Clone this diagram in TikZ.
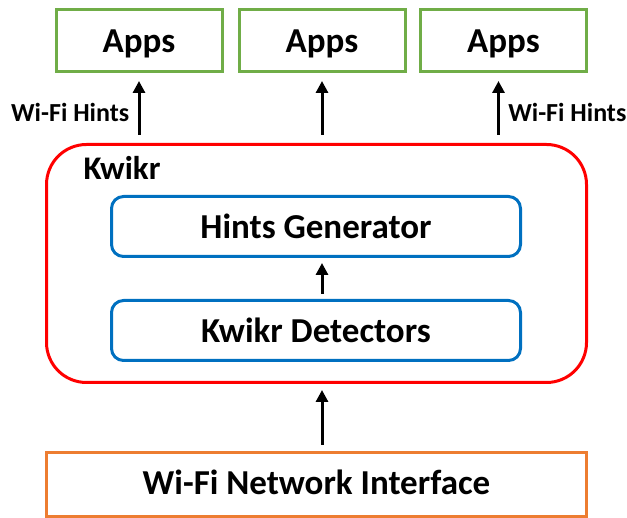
\documentclass[tikz,border=0pt]{standalone}
\usepackage{fontspec}
\setmainfont{Carlito}
\RequirePackage{xcolor}
\usetikzlibrary{shapes,arrows.meta}
\definecolor{appgreen}{RGB}{112,173,71}
\definecolor{kwikrred}{RGB}{255,0,0}
\definecolor{modblue}{RGB}{0,112,192}
\definecolor{nicorange}{RGB}{237,125,49}
\tikzstyle{apps} = [rectangle, minimum width=166pt, minimum height=62pt, text height=27pt, text depth=2pt, text centered, draw=appgreen, line width=3pt, font=\bfseries\fontsize{35}{40}\selectfont]
\tikzstyle{module} = [rectangle, rounded corners=12pt, minimum width=409pt, minimum height=60pt, text centered, draw=modblue, line width=3pt, font=\bfseries\fontsize{35}{40}\selectfont]
\tikzstyle{system} = [rectangle, rounded corners=40pt, minimum width=540pt, minimum height=238pt, draw=kwikrred, line width=3pt]
\tikzstyle{iface} = [rectangle, minimum width=540pt, minimum height=64pt, text height=26pt, text depth=5pt, text centered, draw=nicorange, line width=3pt, font=\bfseries\fontsize{35}{40}\selectfont]
\tikzstyle{arrow} = [line width=3pt, -{Triangle[length=12pt,width=12pt]}]
\tikzstyle{hint} = [font=\bfseries\fontsize{26}{30}\selectfont]

\begin{document}
\begin{tikzpicture}[x=1pt,y=-1pt]
\useasboundingbox (0,0) rectangle (627,518);
\node (app1) [apps] at (139,40.5) {Apps};
\node (app2) [apps] at (322,40.5) {Apps};
\node (app3) [apps] at (503.5,40.5) {Apps};
\node (kwikr) [system] at (316.5,263.5) {};
\node (kwikrlabel) [anchor=west, font=\bfseries\fontsize{33}{38}\selectfont] at (80,168) {Kwikr};
\node (gen) [module] at (316,226.5) {Hints Generator};
\node (det) [module] at (316,330.5) {Kwikr Detectors};
\node (nic) [iface] at (316.5,484.5) {Wi-Fi Network Interface};

\draw [arrow, shorten <=8pt, shorten >=8pt] (kwikr.north -| app1.south) -- node[hint, left, xshift=-5pt, yshift=-4pt] {Wi-Fi Hints} (app1.south);
\draw [arrow, shorten <=8pt, shorten >=8pt] (kwikr.north -| app2.south) -- (app2.south);
\draw [arrow, shorten <=8pt, shorten >=8pt] ([xshift=-5pt]kwikr.north -| app3.south) -- node[hint, right, xshift=5pt, yshift=-4pt] {Wi-Fi Hints} ([xshift=-5pt]app3.south);
\draw [arrow, shorten <=5pt, shorten >=5pt] (det.north -| app2.south) -- (gen.south -| app2.south);
\draw [arrow, shorten <=6pt, shorten >=6pt] (nic.north -| app2.south) -- (kwikr.south -| app2.south);
\end{tikzpicture}
\end{document}
